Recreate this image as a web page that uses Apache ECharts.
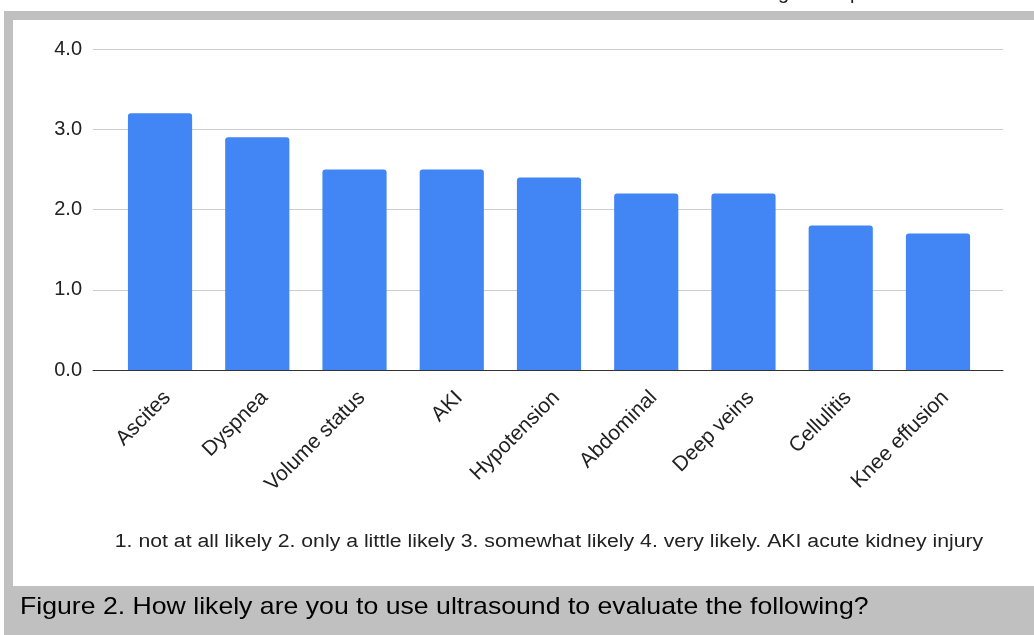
<!DOCTYPE html>
<html>
<head>
<meta charset="utf-8">
<script src="https://cdn.jsdelivr.net/npm/echarts@6/dist/echarts.min.js"></script>
<style>
  html, body { margin: 0; padding: 0; background: #fff; }
  #chart { width: 1034px; height: 635px; }
</style>
</head>
<body>
<div id="chart"></div>
<script>
const categories = ['Ascites', 'Dyspnea', 'Volume status', 'AKI', 'Hypotension', 'Abdominal', 'Deep veins', 'Cellulitis', 'Knee effusion'];
const values = [3.2, 2.9, 2.5, 2.5, 2.4, 2.2, 2.2, 1.8, 1.7];
const yTicks = [0, 1, 2, 3, 4];
const footnote = '1. not at all likely 2. only a little likely 3. somewhat likely 4. very likely. AKI acute kidney injury';
const caption = 'Figure 2. How likely are you to use ultrasound to evaluate the following?';

const FONT = '"Liberation Sans", Arial, sans-serif';
const chart = echarts.init(document.getElementById('chart'), null, { renderer: 'canvas' });

const option = {
  backgroundColor: '#ffffff',
  animation: false,
  textStyle: { fontFamily: FONT },
  grid: [
    { left: 93, top: 49, width: 910, height: 321, containLabel: false },
    { left: 111.4, top: 49, width: 875.2, height: 321, containLabel: false }
  ],
  xAxis: [
    {
      gridIndex: 0, type: 'value', min: 0, max: 1,
      axisLine: { show: true, onZero: false, lineStyle: { color: '#333333', width: 1 } },
      axisTick: { show: false }, axisLabel: { show: false }, splitLine: { show: false }
    },
    {
      gridIndex: 1, type: 'category', data: categories,
      axisLine: { show: false }, axisTick: { show: false },
      axisLabel: { rotate: 45, margin: 17, align: 'right', verticalAlign: 'top', fontSize: 21, color: '#222222', fontFamily: FONT, interval: 0 }
    }
  ],
  yAxis: [
    {
      gridIndex: 0, type: 'value', min: yTicks[0], max: yTicks[yTicks.length - 1], interval: 1,
      axisLine: { show: false }, axisTick: { show: false },
      axisLabel: { margin: 11, fontSize: 20, color: '#222222', fontFamily: FONT, formatter: v => v.toFixed(1) },
      splitLine: { show: true, lineStyle: { color: '#cccccc', width: 1 } }
    },
    {
      gridIndex: 1, type: 'value', min: yTicks[0], max: yTicks[yTicks.length - 1], interval: 1,
      show: false, splitLine: { show: false }
    }
  ],
  series: [
    {
      type: 'bar', xAxisIndex: 1, yAxisIndex: 1, data: values,
      barCategoryGap: '34%',
      itemStyle: { color: '#4285f4', borderRadius: [3, 3, 0, 0] }
    }
  ],
  graphic: [
    { type: 'rect', shape: { x: 4, y: 11, width: 1030, height: 9 }, style: { fill: '#c0c0c0' }, silent: true },
    { type: 'rect', shape: { x: 4, y: 11, width: 9, height: 624 }, style: { fill: '#c0c0c0' }, silent: true },
    { type: 'rect', shape: { x: 4, y: 586, width: 1030, height: 49 }, style: { fill: '#c0c0c0' }, silent: true },
    { type: 'text', left: 778, top: -17, style: { text: 'g', font: '20px ' + FONT, fill: '#222222' }, silent: true },
    { type: 'text', left: 850, top: -17, style: { text: 'p', font: '20px ' + FONT, fill: '#222222' }, silent: true },
    { type: 'text', x: 549, y: 542, scaleX: 1.18, style: { text: footnote, font: '18px ' + FONT, fill: '#222222', textAlign: 'center', textVerticalAlign: 'middle' }, silent: true },
    { type: 'text', x: 20, y: 607, scaleX: 1.11, style: { text: caption, font: '24px ' + FONT, fill: '#000000', textAlign: 'left', textVerticalAlign: 'middle' }, silent: true }
  ]
};
chart.setOption(option);
</script>
</body>
</html>
